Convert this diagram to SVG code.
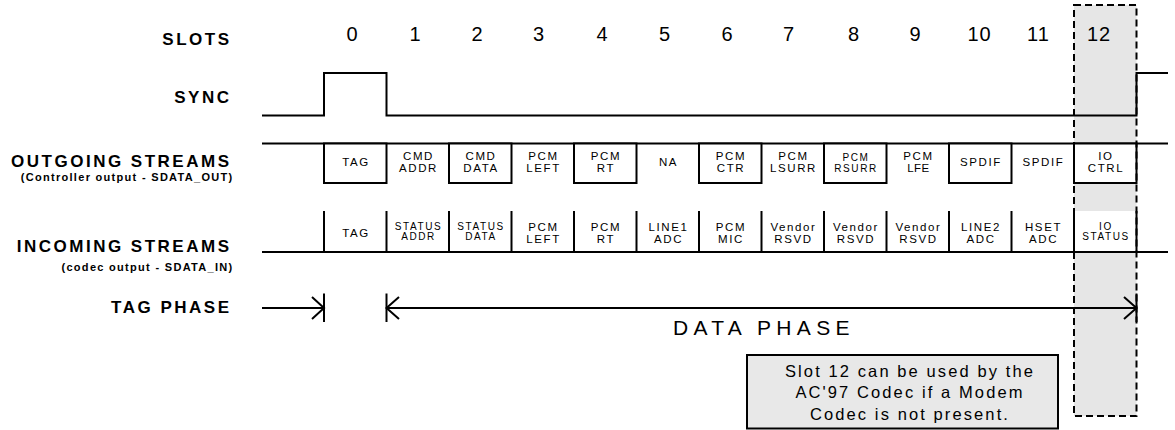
<svg xmlns="http://www.w3.org/2000/svg" width="1175" height="430" viewBox="0 0 1175 430">
<style>
text{font-family:"Liberation Sans",Arial,sans-serif;fill:#000}
.lbl{font-weight:bold;font-size:17px;letter-spacing:2.5px;text-anchor:end}
.sub{font-weight:bold;font-size:11px;letter-spacing:1.3px;text-anchor:end}
.num{font-size:20px;letter-spacing:1px;text-anchor:middle}
.c{font-size:11.5px;letter-spacing:1.6px;text-anchor:middle}
.s{font-size:10px;letter-spacing:1.6px;text-anchor:middle}
.ln{fill:none;stroke:#000;stroke-width:2}
.box{fill:#fff;stroke:#000;stroke-width:2}
.note{font-size:16.5px;letter-spacing:2.1px;text-anchor:middle}
</style>
<rect width="1175" height="430" fill="#fff"/>
<!-- slot 12 highlight -->
<rect id="slot12-bg" x="1074" y="5" width="62.5" height="411" fill="#e6e6e6"/>

<g id="labels">
<g id="label-slots"><text class="lbl" x="231.5" y="45">SLOTS</text></g>
<g id="label-sync"><text class="lbl" x="231.5" y="103">SYNC</text></g>
<g id="label-out"><text class="lbl" x="231.5" y="166.5">OUTGOING STREAMS</text><text class="sub" x="233.5" y="180.5">(Controller output - SDATA_OUT)</text></g>
<g id="label-in"><text class="lbl" x="231.5" y="252">INCOMING STREAMS</text><text class="sub" x="233.5" y="271">(codec output - SDATA_IN)</text></g>
<g id="label-tag"><text class="lbl" x="231.5" y="313">TAG PHASE</text></g>
</g>

<g id="slot-numbers">
<text class="num" x="352.5" y="41">0</text>
<text class="num" x="415.5" y="41">1</text>
<text class="num" x="477.5" y="41">2</text>
<text class="num" x="539" y="41">3</text>
<text class="num" x="602.5" y="41">4</text>
<text class="num" x="665" y="41">5</text>
<text class="num" x="727.5" y="41">6</text>
<text class="num" x="789" y="41">7</text>
<text class="num" x="854" y="41">8</text>
<text class="num" x="915.5" y="41">9</text>
<text class="num" x="979.5" y="41">10</text>
<text class="num" x="1038.5" y="41">11</text>
<text class="num" x="1099" y="41">12</text>
</g>

<g id="sync">
<polyline class="ln" points="262,115.5 324,115.5 324,73 386.5,73 386.5,115.5 1136.5,115.5 1136.5,73 1168,73"/>
</g>

<g id="outgoing">
<line class="ln" x1="262" y1="143.5" x2="1168" y2="143.5"/>
<rect class="box" x="324" y="143.5" width="62.5" height="39.5"/>
<rect class="box" x="449" y="143.5" width="62.5" height="39.5"/>
<rect class="box" x="574" y="143.5" width="62.5" height="39.5"/>
<rect class="box" x="699" y="143.5" width="62.5" height="39.5"/>
<rect class="box" x="824" y="143.5" width="62.5" height="39.5"/>
<rect class="box" x="949" y="143.5" width="62.5" height="39.5"/>
<rect class="box" x="1074" y="143.5" width="62.5" height="39.5"/>
<g id="out-0"><text class="c" x="356" y="166">TAG</text></g>
<g id="out-1"><text class="c" x="418.5" y="159.5">CMD</text><text class="c" x="418.5" y="171.5">ADDR</text></g>
<g id="out-2"><text class="c" x="481" y="159.5">CMD</text><text class="c" x="481" y="171.5">DATA</text></g>
<g id="out-3"><text class="c" x="543.5" y="159.5">PCM</text><text class="c" x="543.5" y="171.5">LEFT</text></g>
<g id="out-4"><text class="c" x="606" y="159.5">PCM</text><text class="c" x="606" y="171.5">RT</text></g>
<g id="out-5"><text class="c" x="668.5" y="166">NA</text></g>
<g id="out-6"><text class="c" x="731" y="159.5">PCM</text><text class="c" x="731" y="171.5">CTR</text></g>
<g id="out-7"><text class="c" x="793.5" y="159.5">PCM</text><text class="c" x="793.5" y="171.5">LSURR</text></g>
<g id="out-8"><text class="s" x="856" y="160.5">PCM</text><text class="s" x="856" y="171.5">RSURR</text></g>
<g id="out-9"><text class="c" x="918.5" y="159.5">PCM</text><text class="c" x="918.5" y="171.5" style="letter-spacing:0.5px">LFE</text></g>
<g id="out-10"><text class="c" x="981" y="166">SPDIF</text></g>
<g id="out-11"><text class="c" x="1043.5" y="166">SPDIF</text></g>
<g id="out-12"><text class="c" x="1106" y="159.5">IO</text><text class="c" x="1106" y="171.5">CTRL</text></g>
</g>

<g id="incoming">
<rect x="1074" y="211" width="62.5" height="41" fill="#fff"/>
<line class="ln" x1="262" y1="252" x2="1168" y2="252"/>
<path class="ln" d="M324 211V252M386.5 211V252M449 211V252M511.5 211V252M574 211V252M636.5 211V252M699 211V252M761.5 211V252M824 211V252M886.5 211V252M949 211V252M1011.5 211V252M1074 211V252M1136.5 211V252"/>
<g id="in-0"><text class="c" x="356" y="236.5">TAG</text></g>
<g id="in-1"><text class="s" x="418.5" y="230">STATUS</text><text class="s" x="418.5" y="240">ADDR</text></g>
<g id="in-2"><text class="s" x="481" y="230">STATUS</text><text class="s" x="481" y="240">DATA</text></g>
<g id="in-3"><text class="c" x="543.5" y="230.5">PCM</text><text class="c" x="543.5" y="242.5">LEFT</text></g>
<g id="in-4"><text class="c" x="606" y="230.5">PCM</text><text class="c" x="606" y="242.5">RT</text></g>
<g id="in-5"><text class="c" x="668.5" y="230.5">LINE1</text><text class="c" x="668.5" y="242.5">ADC</text></g>
<g id="in-6"><text class="c" x="731" y="230.5">PCM</text><text class="c" x="731" y="242.5">MIC</text></g>
<g id="in-7"><text class="c" x="793.5" y="230.5">Vendor</text><text class="c" x="793.5" y="242.5">RSVD</text></g>
<g id="in-8"><text class="c" x="856" y="230.5">Vendor</text><text class="c" x="856" y="242.5">RSVD</text></g>
<g id="in-9"><text class="c" x="918.5" y="230.5">Vendor</text><text class="c" x="918.5" y="242.5">RSVD</text></g>
<g id="in-10"><text class="c" x="981" y="230.5">LINE2</text><text class="c" x="981" y="242.5">ADC</text></g>
<g id="in-11"><text class="c" x="1043.5" y="230.5">HSET</text><text class="c" x="1043.5" y="242.5">ADC</text></g>
<g id="in-12"><text class="s" x="1106" y="230">IO</text><text class="s" x="1106" y="240">STATUS</text></g>
</g>

<g id="connectors">
<line class="ln" x1="262" y1="308" x2="324" y2="308"/>
<line class="ln" x1="324" y1="293.5" x2="324" y2="322"/>
<polyline class="ln" points="312,297 324,308 312,319"/>
<line class="ln" x1="386.5" y1="293.5" x2="386.5" y2="322"/>
<line class="ln" x1="386.5" y1="308" x2="1136.5" y2="308"/>
<polyline class="ln" points="399,297 386.5,308 399,319"/>
<line class="ln" x1="1136.5" y1="293.5" x2="1136.5" y2="322"/>
<polyline class="ln" points="1124,297 1136.5,308 1124,319"/>
</g>

<g id="data-phase"><text x="673" y="335" style="font-size:21px;letter-spacing:5.3px">DATA PHASE</text></g>

<g id="note">
<rect x="747" y="355" width="311" height="73.5" fill="#e8e8e8" stroke="#000" stroke-width="2"/>
<text class="note" x="910" y="376.5">Slot 12 can be used by the</text>
<text class="note" x="910" y="398">AC'97 Codec if a Modem</text>
<text class="note" x="910" y="419.5">Codec is not present.</text>
</g>

<rect id="slot12-border" x="1074" y="5" width="62.5" height="411" fill="none" stroke="#000" stroke-width="2" stroke-dasharray="7 4"/>
</svg>
